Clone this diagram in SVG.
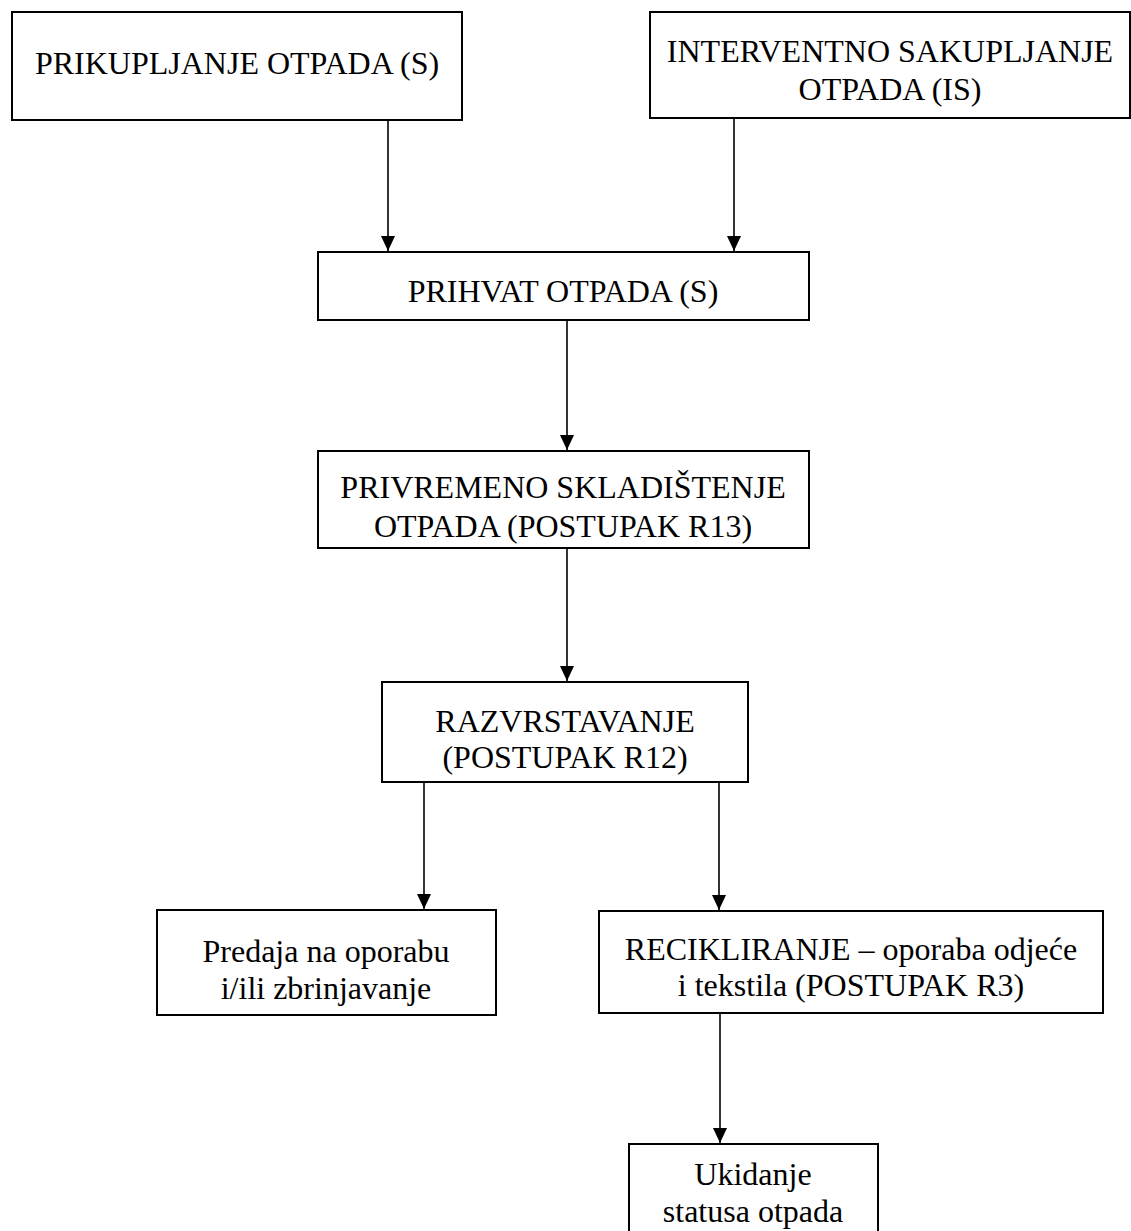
<svg xmlns="http://www.w3.org/2000/svg" width="1131" height="1231" viewBox="0 0 1131 1231">
<style>
.box{fill:#fff;stroke:#000;stroke-width:2}
.t{font-family:"Liberation Serif","Times New Roman",serif;font-size:32px;fill:#000;text-anchor:middle}
.c{stroke:#000;stroke-width:1.6;fill:none}
</style>
<defs>
<marker id="ah" markerWidth="15" markerHeight="14" refX="15" refY="7" orient="auto" markerUnits="userSpaceOnUse" viewBox="0 0 15 14">
<path d="M0,0 L15,7 L0,14 Z" fill="#000"/>
</marker>
</defs>
<rect width="1131" height="1231" fill="#fff"/>
<g id="connectors">
<line class="c" x1="388" y1="120" x2="388" y2="251" marker-end="url(#ah)"/>
<line class="c" x1="734" y1="118" x2="734" y2="251" marker-end="url(#ah)"/>
<line class="c" x1="567" y1="320" x2="567" y2="450" marker-end="url(#ah)"/>
<line class="c" x1="567" y1="548" x2="567" y2="681" marker-end="url(#ah)"/>
<line class="c" x1="424" y1="782" x2="424" y2="909" marker-end="url(#ah)"/>
<line class="c" x1="719" y1="782" x2="719" y2="910" marker-end="url(#ah)"/>
<line class="c" x1="720" y1="1013" x2="720" y2="1143" marker-end="url(#ah)"/>
</g>
<g id="n1"><rect class="box" x="12" y="12" width="450" height="108"/><text class="t" x="237" y="74">PRIKUPLJANJE OTPADA (S)</text></g>
<g id="n2"><rect class="box" x="650" y="12" width="480" height="106"/><text class="t" x="890" y="62">INTERVENTNO SAKUPLJANJE</text><text class="t" x="890" y="100">OTPADA (IS)</text></g>
<g id="n3"><rect class="box" x="318" y="252" width="491" height="68"/><text class="t" x="563" y="302">PRIHVAT OTPADA (S)</text></g>
<g id="n4"><rect class="box" x="318" y="451" width="491" height="97"/><text class="t" x="563" y="498">PRIVREMENO SKLADIŠTENJE</text><text class="t" x="563" y="537">OTPADA (POSTUPAK R13)</text></g>
<g id="n5"><rect class="box" x="382" y="682" width="366" height="100"/><text class="t" x="565" y="732">RAZVRSTAVANJE</text><text class="t" x="565" y="768">(POSTUPAK R12)</text></g>
<g id="n6"><rect class="box" x="157" y="910" width="339" height="105"/><text class="t" x="326" y="962">Predaja na oporabu</text><text class="t" x="326" y="999">i/ili zbrinjavanje</text></g>
<g id="n7"><rect class="box" x="599" y="911" width="504" height="102"/><text class="t" x="851" y="960">RECIKLIRANJE – oporaba odjeće</text><text class="t" x="851" y="996">i tekstila (POSTUPAK R3)</text></g>
<g id="n8"><rect class="box" x="629" y="1144" width="249" height="90"/><text class="t" x="753" y="1185">Ukidanje</text><text class="t" x="753" y="1222">statusa otpada</text></g>
</svg>
